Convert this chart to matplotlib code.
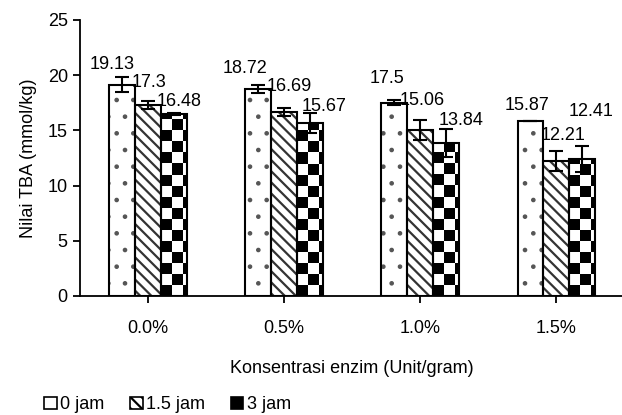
import matplotlib
matplotlib.use("Agg")
import matplotlib.pyplot as plt
import numpy as np
from matplotlib.patches import Patch

plt.rcParams["font.family"] = ["Liberation Sans Narrow", "Liberation Sans", "DejaVu Sans"]

categories = ["0.0%", "0.5%", "1.0%", "1.5%"]
series = ["0 jam", "1.5 jam", "3 jam"]
values_0 = [19.13, 18.72, 17.5, 15.87]
values_15 = [17.3, 16.69, 15.06, 12.21]
values_3 = [16.48, 15.67, 13.84, 12.41]
err_0 = [0.7, 0.35, 0.25, 0.0]
err_15 = [0.38, 0.35, 0.9, 0.9]
err_3 = [0.05, 0.9, 1.3, 1.2]
label_0 = ["19.13", "18.72", "17.5", "15.87"]
label_15 = ["17.3", "16.69", "15.06", "12.21"]
label_3 = ["16.48", "15.67", "13.84", "12.41"]

# hand-placed label offsets (pixels from bar top), like the dragged excel labels
offs_0 = [(-10, 20), (-13, 21), (-7, 24), (-3, 15)]
offs_15 = [(1, 22), (5, 25), (2, 29), (7, 26)]
offs_3 = [(6, 12), (14, 16), (15, 23), (9, 47)]

fig = plt.figure(figsize=(6.22, 4.15), dpi=100)
ax = fig.add_axes([0.128, 0.287, 0.876, 0.665])

x = np.arange(len(categories))
w = 0.19
sq_w = 0.081   # checker square width in data units (~11 px)
sq_h = 1.0     # checker square height in data units


def checker(ax, bar):
    x0, y0 = bar.get_x(), bar.get_y()
    bh = bar.get_height()
    nrows = int(np.ceil(bh / sq_h))
    grid = (np.add.outer(np.arange(nrows), np.arange(3)) % 2).astype(float)
    im = ax.imshow(grid, cmap="gray", vmin=0, vmax=1, interpolation="nearest",
                   extent=(x0, x0 + 3 * sq_w, y0, y0 + nrows * sq_h), origin="lower",
                   aspect="auto", zorder=1.5)
    im.set_clip_path(bar)


plt.rcParams["hatch.linewidth"] = 0.9
b0 = ax.bar(x - w, values_0, w, facecolor="white", edgecolor="#555555",
            hatch=".", linewidth=0, zorder=1)
plt.rcParams["hatch.linewidth"] = 1.6
b1 = ax.bar(x, values_15, w, facecolor="white", edgecolor="#333333",
            hatch="\\\\\\", linewidth=0, zorder=1)
b2 = ax.bar(x + w, values_3, w, facecolor="white", edgecolor="none",
            linewidth=0, zorder=1)
for bar in b2:
    checker(ax, bar)

for xs, vals, errs in [(x - w, values_0, err_0), (x, values_15, err_15), (x + w, values_3, err_3)]:
    ax.bar(xs, vals, w, facecolor="none", edgecolor="black", linewidth=1.5, zorder=3)
    ax.errorbar(xs, vals, yerr=errs, fmt="none", ecolor="black", elinewidth=1.5,
                capsize=5, capthick=1.5, zorder=4)

for xs, vals, labs, offs in [(x - w, values_0, label_0, offs_0),
                             (x, values_15, label_15, offs_15),
                             (x + w, values_3, label_3, offs_3)]:
    for xi, v, lab, (dx, dy) in zip(xs, vals, labs, offs):
        ax.annotate(lab, (xi, v), xytext=(dx, dy), textcoords="offset pixels",
                    ha="center", va="center", fontsize=13, zorder=5)

ax.set_xlim(-0.5, 3.5)
ax.set_ylim(0, 25)
ax.set_yticks([0, 5, 10, 15, 20, 25])
ax.set_xticks(x)
ax.set_xticklabels(categories)
ax.tick_params(axis="both", labelsize=13, direction="out", length=5, width=1.3)
ax.tick_params(axis="x", pad=12)
for s in ["top", "right"]:
    ax.spines[s].set_visible(False)
for s in ["left", "bottom"]:
    ax.spines[s].set_linewidth(1.3)

ax.set_ylabel("Nilai TBA (mmol/kg)", fontsize=13, labelpad=8)
ax.set_xlabel("Konsentrasi enzim (Unit/gram)", fontsize=13, labelpad=17)

handles = [
    Patch(facecolor="white", edgecolor="black", linewidth=1.2),
    Patch(facecolor="white", edgecolor="black", hatch="\\\\\\", linewidth=1.2),
    Patch(facecolor="black", edgecolor="black", linewidth=1.2),
]
fig.legend(handles, series, loc="lower left", bbox_to_anchor=(0.045, -0.035),
           ncol=3, frameon=False, fontsize=13, handlelength=0.7, handleheight=0.7,
           handletextpad=0.2, columnspacing=1.4)

fig.savefig("out.png", dpi=100)
